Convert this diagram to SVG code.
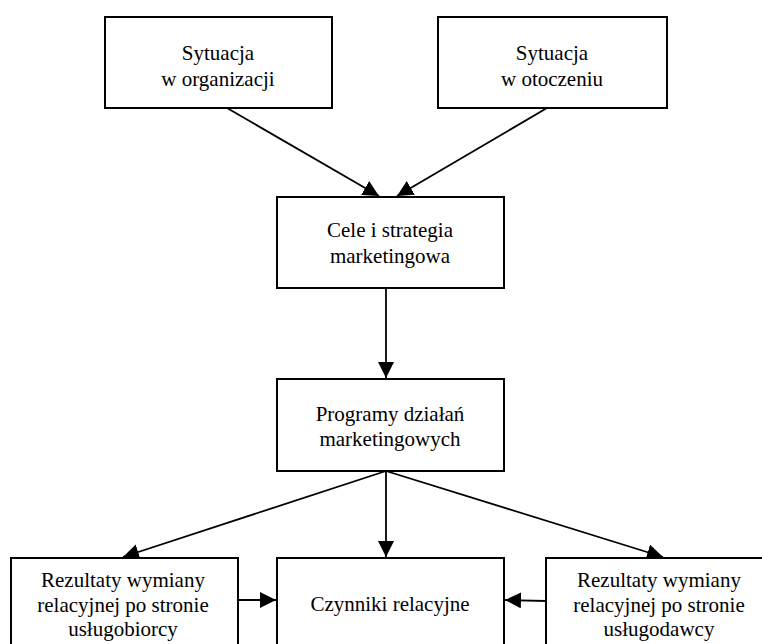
<svg xmlns="http://www.w3.org/2000/svg" width="762" height="644" viewBox="0 0 762 644">
<style>
.box{fill:#fff;stroke:#000;stroke-width:2}
.t{font-family:"Liberation Serif","Times New Roman",serif;font-size:21px;fill:#000;text-anchor:middle}
.c{stroke:#000;stroke-width:1.8;fill:none;marker-end:url(#ah)}
</style>
<defs>
<marker id="ah" markerUnits="userSpaceOnUse" markerWidth="16" markerHeight="16" viewBox="0 0 16 16" refX="16" refY="8" orient="auto">
<path d="M0,0 L16,8 L0,16 Z" fill="#000"/>
</marker>
</defs>
<rect width="762" height="644" fill="#fff"/>
<g id="connectors">
<line class="c" x1="227" y1="108" x2="379" y2="196"/>
<line class="c" x1="547" y1="108" x2="397" y2="196"/>
<line class="c" x1="386" y1="288" x2="386" y2="378"/>
<line class="c" x1="386" y1="471" x2="123" y2="557"/>
<line class="c" x1="386" y1="471" x2="386" y2="557"/>
<line class="c" x1="386" y1="471" x2="663" y2="557"/>
<line class="c" x1="238" y1="600" x2="276" y2="600"/>
<line class="c" x1="546" y1="601" x2="505" y2="600"/>
</g>
<g id="n1">
<rect class="box" x="105" y="17" width="227" height="91"/>
<text class="t" x="218" y="60">Sytuacja</text>
<text class="t" x="218" y="86">w organizacji</text>
</g>
<g id="n2">
<rect class="box" x="438" y="17" width="229" height="91"/>
<text class="t" x="552" y="60">Sytuacja</text>
<text class="t" x="552" y="86">w otoczeniu</text>
</g>
<g id="n3">
<rect class="box" x="277" y="197" width="227" height="91"/>
<text class="t" x="390" y="237">Cele i strategia</text>
<text class="t" x="390" y="263">marketingowa</text>
</g>
<g id="n4">
<rect class="box" x="277" y="379" width="227" height="92"/>
<text class="t" x="390" y="421">Programy działań</text>
<text class="t" x="390" y="446">marketingowych</text>
</g>
<g id="n5">
<rect class="box" x="11" y="558" width="227" height="100"/>
<text class="t" x="123" y="587">Rezultaty wymiany</text>
<text class="t" x="123" y="612">relacyjnej po stronie</text>
<text class="t" x="123" y="636">usługobiorcy</text>
</g>
<g id="n6">
<rect class="box" x="277" y="558" width="227" height="100"/>
<text class="t" x="390" y="611">Czynniki relacyjne</text>
</g>
<g id="n7">
<rect class="box" x="546" y="558" width="230" height="100"/>
<text class="t" x="659" y="587">Rezultaty wymiany</text>
<text class="t" x="659" y="612">relacyjnej po stronie</text>
<text class="t" x="659" y="636">usługodawcy</text>
</g>
</svg>
